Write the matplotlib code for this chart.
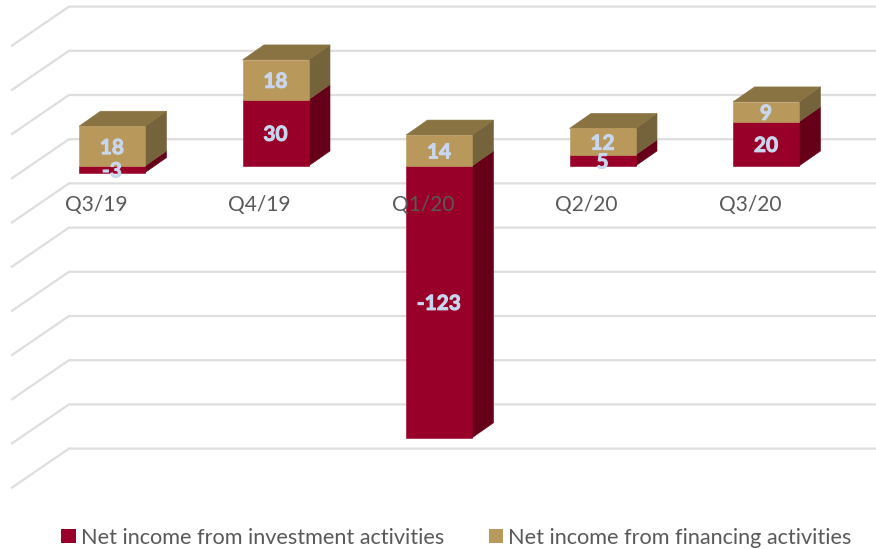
#!/usr/bin/env python

import matplotlib
matplotlib.use('Agg')
import numpy as np
import matplotlib.pyplot as plt
import matplotlib.patheffects as pe
from matplotlib.patches import Patch, Polygon

quarters = ['Q3/19', 'Q4/19', 'Q1/20', 'Q2/20', 'Q3/20']
investment = [-3, 30, -123, 5, 20]
financing = [18, 18, 14, 12, 9]
grid_values = list(range(-140, 61, 20))

RED = '#990029'
RED_SIDE = '#650018'
TAN = '#b8985b'
TAN_TOP = '#8a7343'
TAN_SIDE = '#75633b'
GRID = '#dedede'
TEXT = '#595959'
LABEL = '#c9d7ee'

# pixel scale of the fake 3d chart
W, H = 876, 549
PX_X = 163.5      # px per category
PX_Y = 2.21       # px per unit
X0 = 112          # px of first bar centre
Y0 = 166          # px of value 0 on bar front plane

bar_w = 66 / PX_X
dep_x = 21.5 / PX_X
dep_y = 15 / PX_Y

plt.rcParams['font.family'] = ['Lato', 'DejaVu Sans']

fig = plt.figure(figsize=(W / 100, H / 100), dpi=100)
ax = fig.add_axes([0, 0, 1, 1])
ax.set_xlim(-X0 / PX_X, (W - X0) / PX_X)
ax.set_ylim(-(H - Y0) / PX_Y, Y0 / PX_Y)
ax.axis('off')

# back wall + left wall gridlines
back_x = ax.get_xlim()[0] + 69 / PX_X
front_x = ax.get_xlim()[0] + 12 / PX_X
back_up = 26.8 / PX_Y
wall_drop = 39 / PX_Y
for v in grid_values:
    yb = v + back_up
    ax.plot([front_x, back_x, ax.get_xlim()[1]], [yb - wall_drop, yb, yb],
            color=GRID, lw=1.6, solid_joinstyle='miter', zorder=1)


def box(x, y1, y2, front, side, top=None, z=3):
    l, r = x - bar_w / 2, x + bar_w / 2
    lo, hi = min(y1, y2), max(y1, y2)
    ax.add_patch(Polygon([(r, lo), (r + dep_x, lo + dep_y), (r + dep_x, hi + dep_y), (r, hi)],
                         fc=side, ec=side, lw=0.4, zorder=z))
    if top:
        ax.add_patch(Polygon([(l, hi), (r, hi), (r + dep_x, hi + dep_y), (l + dep_x, hi + dep_y)],
                             fc=top, ec=top, lw=0.4, zorder=z))
    ax.add_patch(Polygon([(l, lo), (r, lo), (r, hi), (l, hi)],
                         fc=front, ec=front, lw=0.4, zorder=z + 0.1))


thick = [pe.withStroke(linewidth=0.7, foreground=LABEL)]

for i, q in enumerate(quarters):
    inv = investment[i]
    fin = financing[i]
    base = max(inv, 0)
    box(i, 0, inv, RED, RED_SIDE)
    box(i, base, base + fin, TAN, TAN_SIDE, TAN_TOP)

    ax.text(i, inv / 2 - 0.9, str(inv), color=LABEL, fontsize=15, fontweight='bold',
            ha='center', va='center', zorder=6, path_effects=thick)
    ax.text(i, base + fin / 2 - 0.9, str(fin), color=LABEL, fontsize=15, fontweight='bold',
            ha='center', va='center', zorder=6, path_effects=thick)
    ax.text(i - 16 / PX_X, -17.6, q, color=TEXT, fontsize=15, ha='center', va='center', zorder=5)

handles = [Patch(fc=RED, label='Net income from investment activities'),
           Patch(fc=TAN, label='Net income from financing activities')]
ax.legend(handles=handles, loc='center', bbox_to_anchor=(456.5 / W, 1 - 537.5 / H), ncol=2, frameon=False,
          fontsize=15.6, labelcolor=TEXT, handlelength=0.65, handleheight=0.65,
          handletextpad=0.25, columnspacing=2.05, borderpad=0)

plt.savefig('out.png', dpi=100)
